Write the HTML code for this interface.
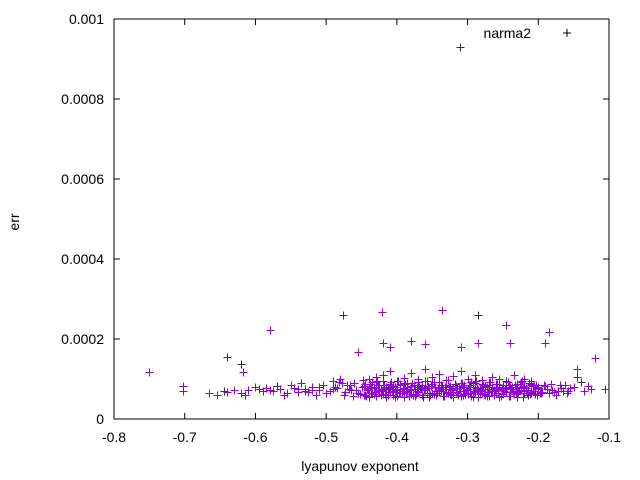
<!DOCTYPE html>
<html><head><meta charset="utf-8"><style>
body{margin:0;background:#fff}
svg{display:block;font-family:"Liberation Sans",sans-serif;font-size:14px}
</style></head><body>
<svg id="chart" width="640" height="480" viewBox="0 0 640 480">
<rect width="640" height="480" fill="#fff"/>
<g id="axes"></g>
<g id="marks"></g>
<text x="19" y="222" text-anchor="middle" transform="rotate(-90 19 222)">err</text>
<text x="360" y="471" text-anchor="middle">lyapunov exponent</text>
<g>
<text x="531" y="38" text-anchor="end">narma2</text>
<path d="M563 33h8M567 29v8" stroke="#000" stroke-width="1"/>
</g>
</svg>
<script>
const xTicks=[-0.8,-0.7,-0.6,-0.5,-0.4,-0.3,-0.2,-0.1];
const xTickLabels=["-0.8","-0.7","-0.6","-0.5","-0.4","-0.3","-0.2","-0.1"];
const yTicks=[0,0.0002,0.0004,0.0006,0.0008,0.001];
const yTickLabels=["0","0.0002","0.0004","0.0006","0.0008","0.001"];
// err values in units of 1e-6
const xs=[-0.311,-0.751,-0.703,-0.703,-0.579,-0.476,-0.421,-0.336,-0.285,-0.245,-0.185,-0.19,-0.12,-0.106,-0.64,-0.62,-0.617,-0.42,-0.38,-0.36,-0.41,-0.455,-0.31,-0.285,-0.24,-0.145,
-0.665,-0.655,-0.645,-0.64,-0.63,-0.62,-0.615,-0.61,-0.6,-0.595,-0.59,-0.585,-0.58,-0.575,-0.57,-0.565,-0.56,-0.555,-0.55,-0.545,-0.54,-0.535,-0.53,-0.525,-0.52,-0.515,-0.51,-0.505,-0.5,-0.495,-0.49,-0.485,-0.48,-0.475,-0.47,-0.465,-0.46,-0.455,-0.45,
-0.445,-0.445,-0.44,-0.44,-0.44,-0.435,-0.435,-0.43,-0.43,-0.43,-0.425,-0.425,-0.42,-0.42,-0.42,-0.415,-0.415,-0.41,-0.41,-0.41,-0.405,-0.405,-0.4,-0.4,-0.4,-0.395,-0.395,-0.39,-0.39,-0.39,-0.385,-0.385,-0.38,-0.38,-0.38,-0.375,-0.375,-0.37,-0.37,-0.37,-0.365,-0.365,-0.36,-0.36,-0.36,-0.355,-0.355,-0.35,-0.35,-0.35,-0.345,-0.345,-0.34,-0.34,-0.34,-0.335,-0.335,-0.33,-0.33,-0.33,-0.325,-0.325,-0.32,-0.32,-0.32,-0.315,-0.315,-0.31,-0.31,-0.31,-0.305,-0.305,-0.3,-0.3,-0.3,-0.295,-0.295,-0.29,-0.29,-0.29,-0.285,-0.285,-0.28,-0.28,-0.28,-0.275,-0.275,-0.27,-0.27,-0.27,-0.265,-0.265,-0.26,-0.26,-0.26,-0.255,-0.255,-0.25,-0.25,-0.25,-0.245,-0.245,-0.24,-0.24,-0.24,-0.235,-0.235,-0.23,-0.23,-0.23,-0.225,-0.225,-0.22,-0.22,-0.22,-0.215,-0.215,-0.21,-0.21,-0.21,-0.205,-0.205,-0.2,-0.2,
-0.195,-0.19,-0.185,-0.18,-0.175,-0.17,-0.165,-0.16,-0.155,-0.15,-0.145,-0.14,-0.135,-0.13,-0.125,-0.182,-0.172,-0.162,
-0.44,-0.43,-0.42,-0.41,-0.4,-0.39,-0.38,-0.37,-0.36,-0.35,-0.34,-0.33,-0.32,-0.31,-0.3,-0.29,-0.28,-0.27,-0.26,-0.25,-0.24,-0.23,-0.22,-0.21,-0.2,
-0.447,-0.437,-0.427,-0.417,-0.407,-0.397,-0.387,-0.377,-0.367,-0.357,-0.347,-0.337,-0.327,-0.317,-0.307,-0.297,-0.287,-0.277,-0.267,-0.257,-0.247,-0.237,-0.227,-0.217,-0.207,
-0.442,-0.432,-0.422,-0.412,-0.402,-0.392,-0.382,-0.372,-0.362,-0.352,-0.342,-0.332,-0.322,-0.312,-0.302,-0.292,-0.282,-0.272,-0.262,-0.252,-0.242,-0.232,-0.222,-0.212,-0.202,
-0.443,-0.433,-0.423,-0.413,-0.403,-0.393,-0.383,-0.373,-0.363,-0.353,-0.343,-0.333,-0.323,-0.313,-0.303,-0.293,-0.283,-0.273,-0.263,-0.253,-0.243,-0.233,-0.223,-0.213,-0.203,
-0.448,-0.438,-0.428,-0.418,-0.408,-0.398,-0.388,-0.378,-0.368,-0.358,-0.348,-0.338,-0.328,-0.318,-0.308,-0.298,-0.288,-0.278,-0.268,-0.258,-0.248,-0.238,-0.228,-0.218,-0.208,
-0.441,-0.431,-0.421,-0.411,-0.401,-0.391,-0.381,-0.371,-0.361,-0.351,-0.341,-0.331,-0.321,-0.311,-0.301,-0.291,-0.281,-0.271,-0.261,-0.251,-0.241,-0.231,-0.221,-0.211,-0.201,
-0.446,-0.436,-0.426,-0.416,-0.406,-0.396,-0.386,-0.376,-0.366,-0.356,-0.346,-0.336,-0.326,-0.316,-0.306,-0.296,-0.286,-0.276,-0.266,-0.256,-0.246,-0.236,-0.226,-0.216,-0.206,
-0.49,-0.482,-0.474,-0.466,-0.458,-0.452,-0.488,-0.478,-0.468,-0.462,-0.52,-0.51,-0.5,-0.54,-0.53,
-0.198,-0.192,-0.188,-0.178,-0.168,-0.158,-0.196,-0.186,-0.176,-0.166,-0.152,-0.142];
const ys=[930,117,82,70,222,260,267,272,260,235,218,190,152,76,155,137,118,190,195,188,180,167,180,190,190,125,
65,60,70,68,72,65,60,72,80,75,70,78,72,70,82,75,60,65,85,78,68,90,75,68,80,60,72,85,65,70,95,78,100,60,85,72,90,66,80,
60,88,72,100,55,65,92,78,58,105,70,85,62,95,110,75,55,88,68,120,60,80,72,95,58,85,65,78,102,55,70,90,62,82,115,75,58,92,68,100,60,85,72,95,125,55,78,88,65,105,70,60,92,80,112,58,75,85,68,98,62,82,72,55,108,78,66,90,58,120,70,85,62,100,75,58,92,80,68,110,72,55,88,65,98,60,82,75,92,58,105,70,66,88,78,55,100,72,62,85,95,68,58,80,75,110,62,88,70,55,92,78,65,82,100,60,72,88,68,
95,70,62,80,75,68,82,65,72,60,85,70,65,78,80,105,92,70,
82,75,88,70,85,78,92,72,86,76,90,74,84,80,88,72,86,78,82,74,90,70,84,76,80,
68,62,70,64,74,60,66,72,62,70,64,68,60,74,66,62,70,64,68,60,66,72,62,70,64,
76,80,73,78,82,75,79,74,77,81,76,72,79,75,83,77,80,74,78,72,81,76,79,73,77,
58,64,56,62,60,57,63,59,61,55,64,58,62,56,60,65,57,61,59,63,56,62,58,60,57,
92,86,96,90,84,98,88,94,86,92,96,88,90,84,94,92,86,98,88,90,84,94,86,92,88,
70,74,67,72,69,73,68,71,75,67,70,73,69,72,66,71,74,68,70,73,69,72,67,71,74,
84,79,81,86,78,83,80,85,79,82,87,80,84,78,83,81,86,79,82,80,85,78,83,81,79,
78,70,88,66,82,74,92,68,86,72,62,80,90,76,58,
72,80,66,76,70,64,86,74,68,78,70,66];
const darkIdx=[0,5,8,14,15,28,40,70,95,120,150,165,180,200,215,230,240,250,260,290,320,350,380,410,440];

const X0=114,X1=609,Y0=419,Y1=19;
const xScale=v=>X0+(v-(-0.8))/0.7*(X1-X0);
const yScale=v=>Y0-v/0.001*(Y0-Y1);
const NS="http://www.w3.org/2000/svg";
const axes=document.getElementById('axes');
const frame=document.createElementNS(NS,'rect');


frame.setAttribute('x',X0);frame.setAttribute('y',Y1);frame.setAttribute('width',X1-X0);frame.setAttribute('height',Y0-Y1);
frame.setAttribute('fill','none');frame.setAttribute('stroke','#000');
axes.appendChild(frame);
xTicks.forEach((t,i)=>{
  const x=xScale(t);
  const p=document.createElementNS(NS,'path');
  
  
  p.setAttribute('d',`M${x} ${Y0}v-6M${x} ${Y1}v6`);p.setAttribute('stroke','#000');
  axes.appendChild(p);
  const tx=document.createElementNS(NS,'text');
  
  
  tx.setAttribute('x',x);tx.setAttribute('y',Y0+23);tx.setAttribute('text-anchor','middle');
  tx.textContent=xTickLabels[i];axes.appendChild(tx);
});
yTicks.forEach((t,i)=>{
  const y=yScale(t);
  const p=document.createElementNS(NS,'path');
  
  
  p.setAttribute('d',`M${X0} ${y}h6M${X1} ${y}h-6`);p.setAttribute('stroke','#000');
  axes.appendChild(p);
  const tx=document.createElementNS(NS,'text');
  
  
  tx.setAttribute('x',X0-10);tx.setAttribute('y',y+5);tx.setAttribute('text-anchor','end');
  tx.textContent=yTickLabels[i];axes.appendChild(tx);
});
const marks=document.getElementById('marks');
let d1='',d2='';
xs.forEach((v,i)=>{
  const x=Math.round(xScale(v))+0.5,y=Math.round(yScale(ys[i]*1e-6))+0.5;
  const s=`M${x-4} ${y}h8M${x} ${y-4}v8`;
  if(darkIdx.includes(i)) d2+=s; else d1+=s;
});
const pd=document.createElementNS(NS,'path');


pd.setAttribute('d',d2);pd.setAttribute('stroke','#333');pd.setAttribute('fill','none');
marks.appendChild(pd);
const pp=document.createElementNS(NS,'path');


pp.setAttribute('d',d1);pp.setAttribute('stroke','#9400d3');pp.setAttribute('fill','none');
marks.appendChild(pp);
</script>
</body></html>
